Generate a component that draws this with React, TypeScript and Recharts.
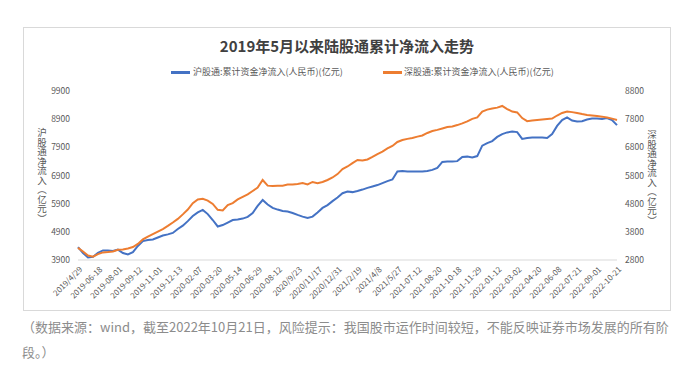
import { LineChart, Line, XAxis, YAxis } from "recharts";

// x-axis date labels, one every POINTS_PER_TICK samples
const tickLabels = [
  "2019/4/29", "2019-06-18", "2019-08-01", "2019-09-12", "2019-11-01", "2019-12-13",
  "2020-02-07", "2020-03-20", "2020-05-14", "2020-06-29", "2020-08-12", "2020/9/23",
  "2020/11/17", "2020/12/31", "2021/2/19", "2021/4/8", "2021/5/27", "2021-07-12",
  "2021-08-20", "2021-10-18", "2021-11-29", "2022-01-12", "2022-03-02", "2022-04-20",
  "2022-06-08", "2022-07-21", "2022-09-01", "2022-10-21",
];
const POINTS_PER_TICK = 4;

// 沪股通 cumulative net inflow (left axis, 亿元)
const shValues = [
  4360, 4150, 3990, 4010, 4150, 4240, 4240, 4220, 4270, 4150,
  4100, 4180, 4400, 4570, 4610, 4630, 4700, 4770, 4810, 4860,
  5000, 5120, 5280, 5460, 5590, 5680, 5530, 5320, 5090, 5140,
  5230, 5320, 5340, 5370, 5430, 5570, 5820, 6030, 5870, 5750,
  5690, 5640, 5620, 5570, 5500, 5440, 5390, 5440, 5590, 5750,
  5850, 5990, 6120, 6270, 6330, 6310, 6350, 6400, 6460, 6510,
  6560, 6630, 6700, 6760, 7040, 7060, 7040, 7040, 7040, 7040,
  7060, 7100, 7170, 7380, 7400, 7400, 7410, 7560, 7570, 7540,
  7590, 7960, 8050, 8120, 8270, 8370, 8430, 8460, 8440, 8200,
  8230, 8250, 8250, 8250, 8230, 8370, 8660, 8870, 8960, 8850,
  8820, 8830, 8890, 8920, 8920, 8910, 8940, 8870, 8690,
];

// 深股通 cumulative net inflow (right axis, 亿元)
const szValues = [
  3230, 3100, 2960, 2920, 3010, 3070, 3080, 3100, 3160, 3170,
  3210, 3260, 3370, 3530, 3630, 3720, 3810, 3900, 4010, 4130,
  4260, 4420, 4590, 4820, 4950, 4970, 4910, 4790, 4580, 4560,
  4750, 4820, 4950, 5040, 5130, 5250, 5370, 5640, 5440, 5430,
  5440, 5440, 5480, 5480, 5500, 5530, 5480, 5570, 5530, 5570,
  5640, 5730, 5850, 6030, 6120, 6240, 6350, 6330, 6370, 6460,
  6560, 6650, 6760, 6850, 6990, 7060, 7100, 7130, 7180, 7220,
  7310, 7380, 7420, 7470, 7520, 7540, 7590, 7650, 7720, 7810,
  7860, 8070, 8140, 8180, 8210, 8270, 8160, 8070, 8040, 7840,
  7730, 7750, 7770, 7790, 7810, 7820, 7930, 8020, 8070, 8050,
  8020, 7980, 7950, 7930, 7910, 7890, 7860, 7820, 7770,
];

const shTicks = [3900, 4900, 5900, 6900, 7900, 8900, 9900];
const szTicks = [2800, 3800, 4800, 5800, 6800, 7800, 8800];

const FONT = '"Noto Sans CJK SC", "Noto Sans", sans-serif';
const BLUE = "#4472c4";
const ORANGE = "#ed7d31";
const TEXT = "#595959";

const data = shValues.map((v, i) => ({ i, sh: v, sz: szValues[i] }));
const xTicks = tickLabels.map((_, k) => k * POINTS_PER_TICK);
const lastIndex = shValues.length - 1;

function DateTick(props: any) {
  const { x, y, payload } = props;
  const label = tickLabels[Math.round(payload.value / POINTS_PER_TICK)] ?? "";
  const tx = x + 3;
  const ty = y;
  return (
    <text
      x={tx}
      y={ty}
      dy="0.35em"
      transform={`rotate(-45 ${tx} ${ty})`}
      textAnchor="end"
      fontSize={8}
      fontFamily={FONT}
      fill={TEXT}
    >
      {label}
    </text>
  );
}

const vText: React.CSSProperties = {
  position: "absolute",
  writingMode: "vertical-rl",
  fontSize: 9.5,
  color: TEXT,
  lineHeight: "10px",
  fontFamily: FONT,
};

export default function App() {
  return (
    <div style={{ position: "absolute", left: 0, top: 0, width: 698, height: 369, background: "#fff", fontFamily: FONT }}>
      <div
        style={{
          position: "absolute",
          left: 23,
          top: 27,
          width: 646,
          height: 282,
          border: "1px solid #d9d9d9",
        }}
      />
      <div
        style={{
          position: "absolute",
          left: 0,
          top: 35,
          width: 694,
          textAlign: "center",
          fontSize: 15,
          lineHeight: "22px",
          fontWeight: 700,
          color: "#404040",
        }}
      >
        2019年5月以来陆股通累计净流入走势
      </div>

      {/* legend */}
      <div style={{ position: "absolute", left: 171, top: 71, width: 19, height: 2.5, background: BLUE }} />
      <div style={{ position: "absolute", left: 193, top: 65, fontSize: 9, lineHeight: "14px", color: TEXT, whiteSpace: "nowrap" }}>
        沪股通:累计资金净流入(人民币)(亿元)
      </div>
      <div style={{ position: "absolute", left: 383, top: 71, width: 19, height: 2.5, background: ORANGE }} />
      <div style={{ position: "absolute", left: 404, top: 65, fontSize: 9, lineHeight: "14px", color: TEXT, whiteSpace: "nowrap" }}>
        深股通:累计资金净流入(人民币)(亿元)
      </div>

      <div style={{ ...vText, left: 37, top: 128 }}>沪股通净流入（亿元）</div>
      <div style={{ ...vText, left: 647, top: 130 }}>深股通净流入（亿元）</div>

      <div style={{ position: "absolute", left: 0, top: 0 }}>
        <LineChart
          width={698}
          height={310}
          data={data}
          margin={{ top: 91, right: 21, bottom: 5, left: 18 }}
        >
          <XAxis
            dataKey="i"
            type="number"
            domain={[0, lastIndex]}
            ticks={xTicks}
            interval={0}
            tick={<DateTick />}
            tickLine={false}
            axisLine={{ stroke: "#d9d9d9" }}
            height={45}
          />
          <YAxis
            yAxisId="sh"
            domain={[3900, 9900]}
            ticks={shTicks}
            interval={0}
            width={60}
            axisLine={false}
            tickLine={false}
            tick={{ fontSize: 8.5, fill: TEXT, fontFamily: FONT }}
          />
          <YAxis
            yAxisId="sz"
            orientation="right"
            domain={[2800, 8800]}
            ticks={szTicks}
            interval={0}
            width={60}
            axisLine={false}
            tickLine={false}
            tick={{ fontSize: 8.5, fill: TEXT, fontFamily: FONT }}
          />
          <Line
            yAxisId="sh"
            type="linear"
            dataKey="sh"
            stroke={BLUE}
            strokeWidth={2}
            dot={false}
            isAnimationActive={false}
          />
          <Line
            yAxisId="sz"
            type="linear"
            dataKey="sz"
            stroke={ORANGE}
            strokeWidth={2}
            dot={false}
            isAnimationActive={false}
          />
        </LineChart>
      </div>

      {/* footnote */}
      <div style={{ position: "absolute", left: 22, top: 317, fontSize: 13, lineHeight: "20px", color: "#8c8c8c", whiteSpace: "nowrap" }}>
        （数据来源：wind，截至2022年10月21日，风险提示：我国股市运作时间较短，不能反映证券市场发展的所有阶
      </div>
      <div style={{ position: "absolute", left: 22, top: 342, fontSize: 13, lineHeight: "20px", color: "#8c8c8c", whiteSpace: "nowrap" }}>
        段。）
      </div>
    </div>
  );
}
